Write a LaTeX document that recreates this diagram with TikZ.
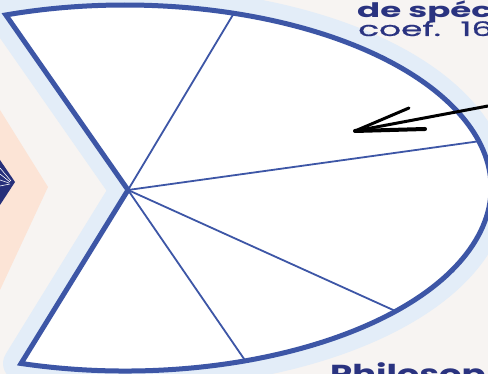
\documentclass[tikz,border=0pt]{standalone}
\usepackage{fontspec}
\setmainfont{Poppins}
\newfontfamily\popmed[FakeBold=0.6]{Poppins}
\usetikzlibrary{calc}
\definecolor{outl}{HTML}{3D56A6}
\definecolor{glowc}{HTML}{E3EDF8}
\definecolor{bgc}{HTML}{F7F4F2}
\definecolor{peach}{HTML}{FCE4D6}
\definecolor{navy}{HTML}{2A3380}
\definecolor{dnavy}{HTML}{27307A}
\begin{document}
\begin{tikzpicture}[x=1pt,y=1pt,
  spoke/.style={draw=outl, line width=1.8},
  rim/.style={draw=outl, line width=5, line join=miter},
  ink/.style={draw=black, line width=3, line cap=round, line join=round},
  lbl/.style={anchor=base west, inner sep=0, text=navy}]
\useasboundingbox (0,0) rectangle (488,374);
\clip (0,0) rectangle (488,374);
\fill[bgc] (0,0) rectangle (488,374);
\fill[peach] (0,264) -- (48,187) -- (0,84) -- cycle;
% geometry
\coordinate (C) at (125,186);
\coordinate (A) at (128,184);
\coordinate (TL) at ($(C)+(109:366 and 183)$);
\coordinate (BL) at ($(C)+(-106.5:366 and 183)$);
\coordinate (S1) at ($(C)+(72.7:366 and 183)$);
\coordinate (S2) at ($(C)+(14.8:366 and 183)$);
\coordinate (S3) at ($(C)+(-42.3:366 and 183)$);
\coordinate (S4) at ($(C)+(-70.8:366 and 183)$);
% glow
\draw[glowc, line width=36, line join=round] (A) -- (BL) arc[start angle=-106.5, end angle=109, x radius=366, y radius=183] -- cycle;
% navy diamond at left edge
\fill[dnavy] (0,214) -- (15,192) -- (0,169) -- cycle;
\draw[white, line width=0.6] (0,206) -- (11,193) (0,200) -- (10,192) (0,194) -- (9,191) (0,188) -- (10,190);
% shape
\fill[white] (A) -- (BL) arc[start angle=-106.5, end angle=109, x radius=366, y radius=183] -- cycle;
\draw[spoke] (A) -- (S1);
\draw[spoke] (A) -- (S2);
\draw[spoke] (A) -- (S3);
\draw[spoke] (A) -- (S4);
\draw[rim] (A) -- (BL) arc[start angle=-106.5, end angle=109, x radius=366, y radius=183] -- cycle;
% arrow
\coordinate (P0) at (488,268);
\coordinate (Tip) at (355,243);
\coordinate (B1) at (409,266);
\coordinate (B2) at (425,245);
\draw[ink] (P0) -- (Tip);
\draw[ink] (Tip) -- (B1);
\draw[ink, line width=4] (Tip) -- (B2);
% texts
\node[lbl, font=\bfseries\fontsize{20}{20}\selectfont] (t1) at (357,356.7) {\scalebox{1.7}[1]{de spéc}};
\node[lbl, font=\popmed\fontsize{20}{20}\selectfont] (t2) at (358,338) {\scalebox{1.72}[1]{coef.\kern6pt\ 16}};
\node[lbl, font=\bfseries\fontsize{26}{26}\selectfont] (t3) at (330,-10) {\scalebox{1.36}[1]{Philosop}};
\end{tikzpicture}
\end{document}
